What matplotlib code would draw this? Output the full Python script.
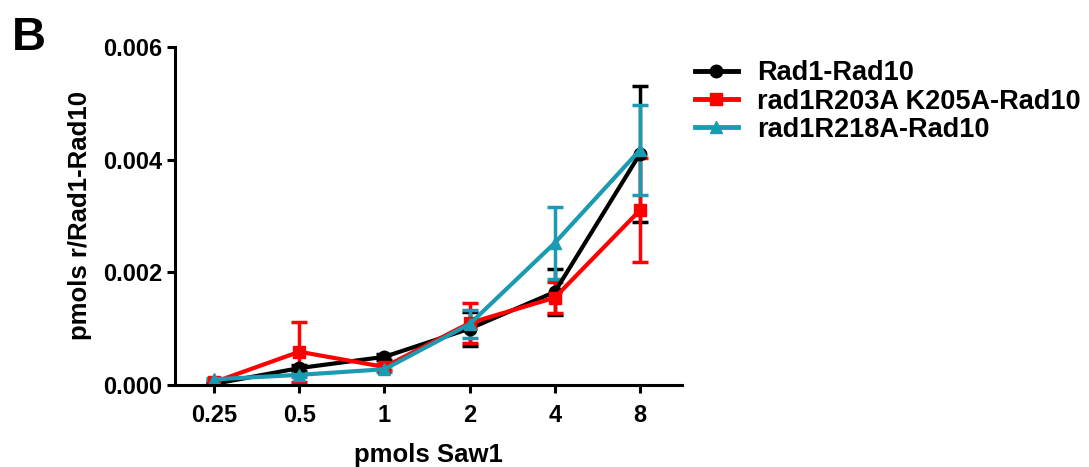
import matplotlib
matplotlib.use("Agg")
import matplotlib.pyplot as plt
from matplotlib.lines import Line2D
import numpy as np

plt.rcParams['font.family'] = ['Liberation Sans', 'DejaVu Sans']
plt.rcParams['font.weight'] = 'bold'

categories = ["0.25", "0.5", "1", "2", "4", "8"]
series_names = ["Rad1-Rad10", "rad1R203A K205A-Rad10", "rad1R218A-Rad10"]
rad1_vals = [0.00002, 0.00030, 0.00050, 0.00100, 0.00165, 0.00410]
rad1_err = [0.00002, 0.00005, 0.00005, 0.00030, 0.00040, 0.00120]
r203_vals = [0.00005, 0.00059, 0.00032, 0.00110, 0.00155, 0.00310]
r203_err = [0.00002, 0.00053, 0.00005, 0.00035, 0.00027, 0.00092]
r218_vals = [0.00010, 0.00018, 0.00028, 0.00108, 0.00252, 0.00417]
r218_err = [0.00002, 0.00003, 0.00005, 0.00025, 0.00064, 0.00080]

colors = ["#000000", "#FF0000", "#1A9BB2"]
markers = ["o", "s", "^"]

fig = plt.figure(figsize=(10.89, 4.67), dpi=100)
ax = fig.add_axes([0.1607, 0.1756, 0.466, 0.724])

x = np.arange(len(categories))
handles = []
for vals, err, c, m, name in zip([rad1_vals, r203_vals, r218_vals],
                                 [rad1_err, r203_err, r218_err],
                                 colors, markers, series_names):
    ax.errorbar(x, vals, yerr=err, color=c, marker=m, markersize=9, lw=3,
                elinewidth=2.5, capsize=6, capthick=2.5)
    handles.append(Line2D([], [], color=c, marker=m, markersize=9, lw=3.5))

ax.set_xlim(-0.46, 5.5)
ax.set_ylim(0, 0.006)
ax.set_yticks([0, 0.002, 0.004, 0.006])
ax.set_yticklabels(["0.000", "0.002", "0.004", "0.006"])
ax.set_xticks(x)
ax.set_xticklabels(categories)
for s in ["top", "right"]:
    ax.spines[s].set_visible(False)
for s in ["left", "bottom"]:
    ax.spines[s].set_linewidth(2.2)
ax.tick_params(width=2.2, length=6, labelsize=17, pad=3)
ax.tick_params(axis='x', pad=8)
for lab in ax.get_xticklabels() + ax.get_yticklabels():
    lab.set_fontweight('bold')

ax.set_xlabel("pmols Saw1", fontsize=18.5, fontweight='bold', labelpad=11)
ax.set_ylabel("pmols r/Rad1-Rad10", fontsize=18.5, fontweight='bold', labelpad=8)

fig.text(0.011, 0.965, "B", fontsize=34, fontweight='bold', va='top', ha='left')

leg = ax.legend(handles, series_names, loc='upper left', bbox_to_anchor=(1.024, 0.96),
                frameon=False, prop={'size': 19.5, 'weight': 'bold'},
                handlelength=1.6, handletextpad=0.7, labelspacing=0.08,
                borderaxespad=0, borderpad=0)

fig.savefig("out.png", dpi=100)
